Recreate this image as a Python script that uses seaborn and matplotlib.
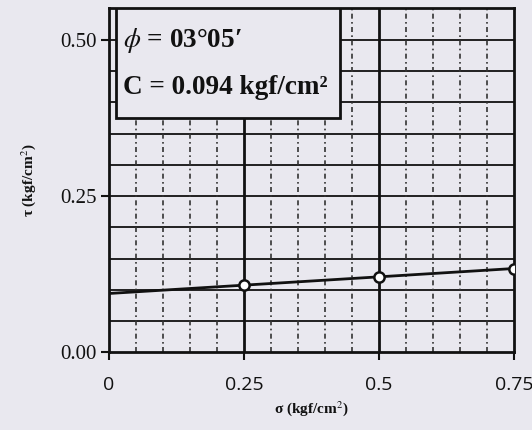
import numpy as np
import pandas as pd
import seaborn as sns
import matplotlib
matplotlib.use("Agg")
import matplotlib.pyplot as plt
from matplotlib.patches import Rectangle

# data
sigma = [0.25, 0.5, 0.75]
tau = [0.107, 0.121, 0.134]
fit_sigma = [0.0, 0.75]
fit_tau = [0.094, 0.134]
phi_text = "$\\phi$ = 03°05′"
c_text = "C = 0.094 kgf/cm²"

x_ticks = [0, 0.25, 0.5, 0.75]
x_labels = ["0", "0.25", "0.5", "0.75"]
y_ticks = [0.0, 0.25, 0.5]
y_labels = ["0.00", "0.25", "0.50"]

sns.set_theme(style="white")
plt.rcParams['font.family'] = ['Liberation Serif', 'DejaVu Serif']
plt.rcParams['mathtext.fontset'] = 'stix'
plt.rcParams['text.color'] = '#111111'
plt.rcParams['axes.labelcolor'] = '#111111'
plt.rcParams['xtick.color'] = '#111111'
plt.rcParams['ytick.color'] = '#111111'

bg = '#e9e8ef'
fig = plt.figure(figsize=(5.32, 4.30), dpi=100, facecolor=bg)
ax = fig.add_axes([0.205, 0.181, 0.761, 0.800])
ax.set_facecolor(bg)

ax.set_xlim(0, 0.75)
ax.set_ylim(0, 0.551)

# grid: horizontal solid every 0.05, vertical dash-dot every 0.05, solid at quarters
for yv in np.arange(0.05, 0.55, 0.05):
    ax.axhline(yv, color='#111111', lw=1.3, zorder=1)
for xv in np.arange(0.05, 0.75, 0.05):
    if abs(xv - 0.25) < 1e-6 or abs(xv - 0.5) < 1e-6:
        ax.axvline(xv, color='#111111', lw=2.0, zorder=1)
    else:
        ax.axvline(xv, color='#333333', lw=1.2, ls=(0, (3, 2, 1, 2)), zorder=1)

# text box
ax.add_patch(Rectangle((0.013, 0.375), 0.415, 0.176, facecolor=bg,
                       edgecolor='#111111', lw=2.0, zorder=3))
ax.text(0.025, 0.500, phi_text, fontsize=19.5, fontweight='bold', va='center',
        ha='left', zorder=4)
ax.text(0.025, 0.424, c_text, fontsize=19.5, fontweight='bold', va='center',
        ha='left', zorder=4)

sns.lineplot(x=fit_sigma, y=fit_tau, ax=ax, color='#111111', lw=2.0, zorder=5)
sns.scatterplot(x=sigma, y=tau, ax=ax, s=55, marker='o', facecolor='white',
                edgecolor='#111111', linewidth=1.8, zorder=6)

for sp in ax.spines.values():
    sp.set_color('#111111')
    sp.set_linewidth(2.0)

ax.set_xticks(x_ticks)
ax.set_xticklabels(x_labels, family=['Open Sans', 'DejaVu Sans'], fontsize=14)
ax.set_yticks(y_ticks)
ax.set_yticklabels(y_labels, fontsize=15)
ax.tick_params(axis='both', direction='out', length=6, width=1.5, color='#111111',
               bottom=True, left=True)
ax.tick_params(axis='x', pad=11)
ax.tick_params(axis='y', pad=3)

ax.set_xlabel("σ (kgf/cm$^2$)", fontsize=11, fontweight='bold', labelpad=4)
ax.set_ylabel("τ (kgf/cm$^2$)", fontsize=11, fontweight='bold', labelpad=16)

fig.savefig("out.png", dpi=100, facecolor=bg)
